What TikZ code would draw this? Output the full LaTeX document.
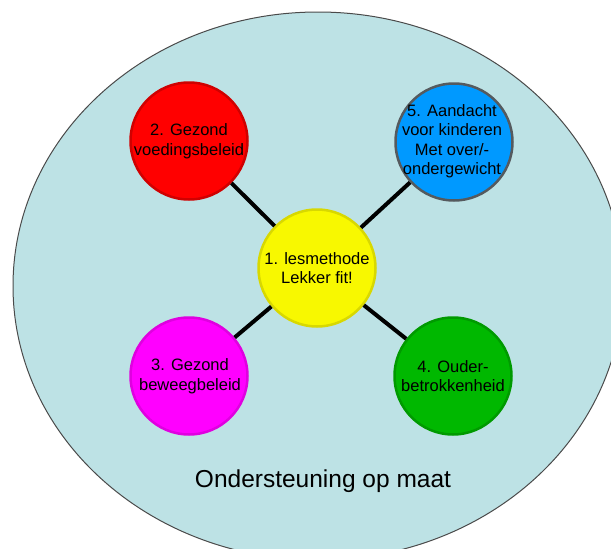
\documentclass[tikz,border=0pt]{standalone}
\usepackage{fontspec}
\setmainfont{Liberation Sans}
\definecolor{bgfill}{HTML}{BDE2E5}
\definecolor{bgline}{HTML}{4A4A4A}
\definecolor{cred}{HTML}{FF0000}
\definecolor{credb}{HTML}{D00000}
\definecolor{cblue}{HTML}{0099FF}
\definecolor{cblueb}{HTML}{555A5E}
\definecolor{cyel}{HTML}{F8F800}
\definecolor{cyelb}{HTML}{D8D800}
\definecolor{cmag}{HTML}{FF00FF}
\definecolor{cmagb}{HTML}{E000E0}
\definecolor{cgreen}{HTML}{00B800}
\definecolor{cgreenb}{HTML}{009A00}
\begin{document}
\begin{tikzpicture}[x=1pt,y=-1pt,
  blob/.style={circle, minimum size=117pt, inner sep=0pt, line width=2.5pt},
  lbl/.style={align=center, inner sep=0pt, text=black, font=\fontsize{16.5}{19.5}\selectfont},
  link/.style={line width=4pt, draw=black}]
\useasboundingbox (0,0) rectangle (611,549);
\begin{scope}
  \clip (0,0) rectangle (611,549);
  \draw[fill=bgfill, draw=bgline, line width=1pt] (318,286) ellipse [x radius=305, y radius=274];
\end{scope}
\node[blob, fill=cyel, draw=cyelb] (m) at (317,268) {};
\node[blob, fill=cred, draw=credb] (a) at (189,141) {};
\node[blob, fill=cmag, draw=cmagb] (b) at (189,376) {};
\node[blob, fill=cgreen, draw=cgreenb] (c) at (453,376) {};
\node[blob, fill=cblue, draw=cblueb] (d) at (454,142) {};
\draw[link] (m) -- (a);
\draw[link] (m) -- (b);
\draw[link] (m) -- (c);
\draw[link] (m) -- (d);
\node[lbl] (mt) at (317,268) {1. lesmethode\\Lekker fit!};
\node[lbl] (at) at (189,141) {2. Gezond\\voedingsbeleid};
\node[lbl] (bt) at (190,376) {3. Gezond\\beweegbeleid};
\node[lbl] (ct) at (453,376) {4. Ouder-\\betrokkenheid};
\node[lbl] (dt) at (452,141) {5. Aandacht\\voor kinderen\\Met over/-\\ondergewicht};
\node[anchor=base, inner sep=0pt, font=\fontsize{24.5}{28}\selectfont] (title) at (323,487) {Ondersteuning op maat};
\end{tikzpicture}
\end{document}
